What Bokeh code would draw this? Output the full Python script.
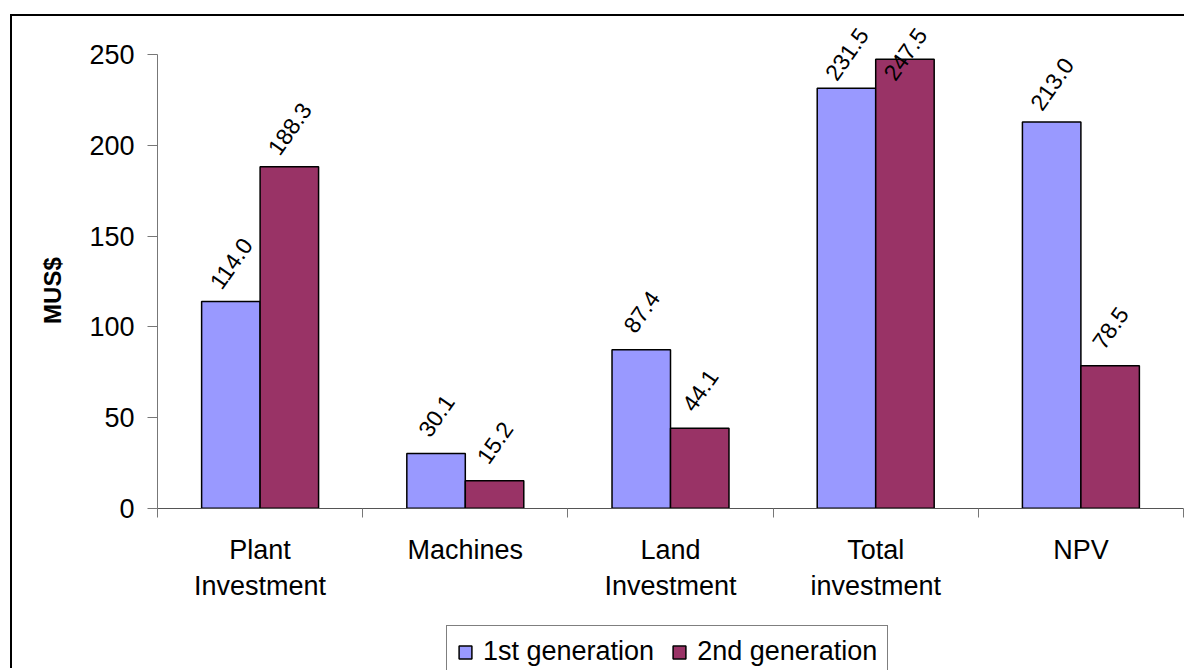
import numpy as np
from bokeh.plotting import figure
from bokeh.models import FixedTicker, Legend, LegendItem, ColumnDataSource, Label
from bokeh.core.properties import value
from bokeh.embed import file_html
from bokeh.resources import INLINE

# Chart data
categories = ["Plant\nInvestment", "Machines", "Land\nInvestment", "Total\ninvestment", "NPV"]
first_gen = [114.0, 30.1, 87.4, 231.5, 213.0]
second_gen = [188.3, 15.2, 44.1, 247.5, 78.5]
series_names = ["1st generation", "2nd generation"]
series_colors = ["#9999FF", "#993366"]
y_ticks = [0, 50, 100, 150, 200, 250]
y_label = "MUS$"

FONT = "Liberation Sans"
BAR_W = 0.285
Y_MAX = 250
LABEL_LIFT = 21.0     # data units between bar top and label centre
LABEL_CEIL = 250.5    # labels never rise above this

# Canvas geometry (px): the frame fills the whole canvas and the axes are
# pinned inside it, so the legend and axis title are never clipped.
CANVAS_W, CANVAS_H = 1174, 654
CAT_PX = 205.2            # width of one category
UNIT_PX = 1.8136          # pixels per MUS$
AXIS_X_PX = 145           # y axis distance from canvas left
AXIS_Y_PX = 491.7         # x axis distance from canvas top

n = len(categories)
x_lo = -0.5 - AXIS_X_PX / CAT_PX
x_hi = x_lo + CANVAS_W / CAT_PX
y_hi = AXIS_Y_PX / UNIT_PX
y_lo = y_hi - CANVAS_H / UNIT_PX

centers = np.arange(n, dtype=float)

p = figure(width=CANVAS_W, height=CANVAS_H,
           x_range=(x_lo, x_hi), y_range=(y_lo, y_hi),
           output_backend="svg", toolbar_location=None,
           min_border=0)
p.margin = (14, 0, 0, 10)
p.styles = {"border-top": "2px solid #000", "border-left": "2px solid #000"}
p.outline_line_color = None
p.grid.visible = False
p.background_fill_color = "white"
p.border_fill_color = "white"

renderers = []
for k, (vals, color) in enumerate(zip([first_gen, second_gen], series_colors)):
    xs = centers + (k - 0.5) * BAR_W
    src = ColumnDataSource(dict(
        x=xs, top=vals,
        ly=np.minimum(np.array(vals) + LABEL_LIFT, LABEL_CEIL),
        txt=[f"{v:.1f}" for v in vals],
    ))
    r = p.vbar(x="x", top="top", width=BAR_W, bottom=0, source=src,
               fill_color=color, line_color="black", line_width=1.5)
    renderers.append(r)
    p.text(x="x", y="ly", text="txt", source=src, angle=55, angle_units="deg",
           text_align="center", text_baseline="middle",
           text_font=value(FONT), text_font_size="23px", text_color="black")

# y axis, pinned at the first category boundary
ya = p.yaxis[0]
ya.fixed_location = -0.5
ya.ticker = FixedTicker(ticks=y_ticks)
ya.bounds = (0, Y_MAX)
ya.axis_line_color = "#777777"
ya.major_tick_line_color = "#777777"
ya.major_tick_out = 10
ya.major_tick_in = 0
ya.minor_tick_line_color = None
ya.major_label_text_font = FONT
ya.major_label_text_font_size = "27px"
ya.major_label_text_color = "black"
ya.major_label_standoff = 13

p.add_layout(Label(x=-0.5 - 105 / CAT_PX, y=120, text=y_label, angle=90, angle_units="deg",
                   text_align="center", text_baseline="middle",
                   text_font=FONT, text_font_style="bold", text_font_size="24px",
                   text_color="black"))

# x axis at zero: labels at category centres, ticks at category boundaries
xa = p.xaxis[0]
xa.fixed_location = 0
boundaries = list(np.arange(n + 1) - 0.5)
xa.bounds = (boundaries[0], boundaries[-1])
xa.ticker = FixedTicker(ticks=list(range(n)), minor_ticks=boundaries)
xa.major_label_overrides = {i: c for i, c in enumerate(categories)}
xa.axis_line_color = "#555555"
xa.major_tick_line_color = None
xa.major_tick_out = 0
xa.major_tick_in = 0
xa.minor_tick_line_color = "#777777"
xa.minor_tick_out = 9
xa.minor_tick_in = 0
xa.major_label_text_font = FONT
xa.major_label_text_font_size = "27px"
xa.major_label_text_color = "black"
xa.major_label_standoff = 18

legend = Legend(
    items=[LegendItem(label=nm, renderers=[r]) for nm, r in zip(series_names, renderers)],
    orientation="horizontal", location=(434, -8),
    label_text_font=FONT, label_text_font_size="27px", label_text_color="black",
    glyph_width=16, glyph_height=16, label_standoff=10, spacing=17,
    padding=10, margin=0,
    border_line_color="black", border_line_width=1,
    background_fill_color="white", background_fill_alpha=1,
)
p.add_layout(legend)

open("out.html", "w").write(file_html(p, INLINE))
